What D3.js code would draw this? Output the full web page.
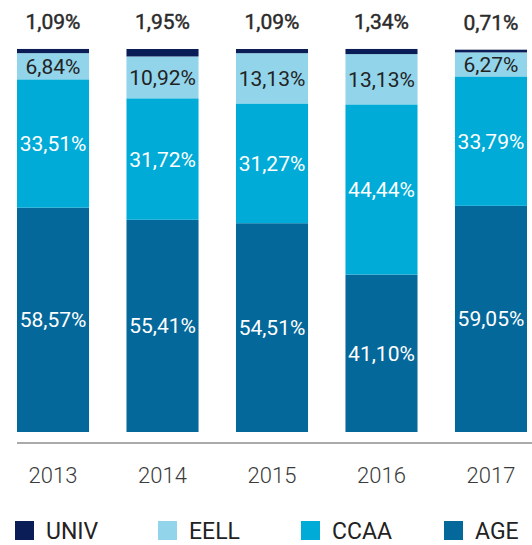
<!DOCTYPE html>
<html><head><meta charset="utf-8">
<script src="https://cdn.jsdelivr.net/npm/d3@7"></script>
<style>body{margin:0;background:#fff}svg{display:block;font-family:Roboto,"Noto Sans",sans-serif}</style>
</head><body><svg id="c" width="532" height="545"></svg>
<script>
const years = ["2013","2014","2015","2016","2017"];
const seriesNames = ["AGE","CCAA","EELL","UNIV"];
const AGE  = [58.57, 55.41, 54.51, 41.10, 59.05];
const CCAA = [33.51, 31.72, 31.27, 44.44, 33.79];
const EELL = [6.84, 10.92, 13.13, 13.13, 6.27];
const UNIV = [1.09, 1.95, 1.09, 1.34, 0.71];
const colors = {AGE:"#05689b", CCAA:"#00abd7", EELL:"#92d5eb", UNIV:"#0b1d57"};
const textColors = {AGE:"#ffffff", CCAA:"#ffffff", EELL:"#222222", UNIV:"#222222"};
const legendOrder = ["UNIV","EELL","CCAA","AGE"];

const table = years.map((y,i)=>({year:y, AGE:AGE[i], CCAA:CCAA[i], EELL:EELL[i], UNIV:UNIV[i]}));
const stacked = d3.stack().keys(seriesNames)(table);

const svg = d3.select("#c");
const x = d3.scaleBand().domain(years).range([17,527]).paddingInner(0.342).paddingOuter(0);
const y = d3.scaleLinear().domain([0,100]).range([432,49]);
const fmt = v => d3.format(".2f")(v).replace(".", ",") + "%";

const g = svg.append("g");
stacked.forEach(layer=>{
  const k = layer.key;
  g.selectAll(null).data(layer).join("rect")
    .attr("x", d=>x(d.data.year)).attr("width", x.bandwidth())
    .attr("y", d=>y(d[1])).attr("height", d=>y(d[0])-y(d[1]))
    .attr("fill", colors[k]);
  if (k !== "UNIV") {
    g.selectAll(null).data(layer).join("text")
      .attr("x", d=>x(d.data.year)+x.bandwidth()/2)
      .attr("y", d=>(y(d[0])+y(d[1]))/2)
      .attr("dy","0.36em").attr("text-anchor","middle")
      .attr("font-size",21).attr("fill",textColors[k])
      .text(d=>fmt(d.data[k]));
  } else {
    g.selectAll(null).data(layer).join("text")
      .attr("x", d=>x(d.data.year)+x.bandwidth()/2)
      .attr("y", d=>y(d[1]) - 20)
      .attr("text-anchor","middle")
      .attr("font-size",21).attr("fill","#2a2a2a")
      .attr("stroke","#2a2a2a").attr("stroke-width",0.45)
      .text(d=>fmt(d.data[k]));
  }
});

// baseline axis
const axis = d3.axisBottom(x).tickSize(0).tickPadding(24);
const ax = svg.append("g").attr("transform","translate(0,443)").call(axis);
ax.select(".domain").attr("d","M17,0H532").attr("stroke","#aaaaaa").attr("stroke-width",2);
ax.selectAll(".tick text").attr("font-size",22).attr("fill","#3a3a3a").attr("font-family","Roboto,sans-serif").attr("font-weight",300);

// legend
const legX = d3.scalePoint().domain(legendOrder).range([15,444]);
const leg = svg.append("g").selectAll("g").data(legendOrder).join("g")
  .attr("transform", d=>`translate(${legX(d)},521)`);
leg.append("rect").attr("width",19).attr("height",19).attr("fill",d=>colors[d]);
leg.append("text").attr("x",31).attr("y",10).attr("dy","0.36em")
  .attr("font-size",23).attr("fill","#222").text(d=>d);
</script></body></html>
